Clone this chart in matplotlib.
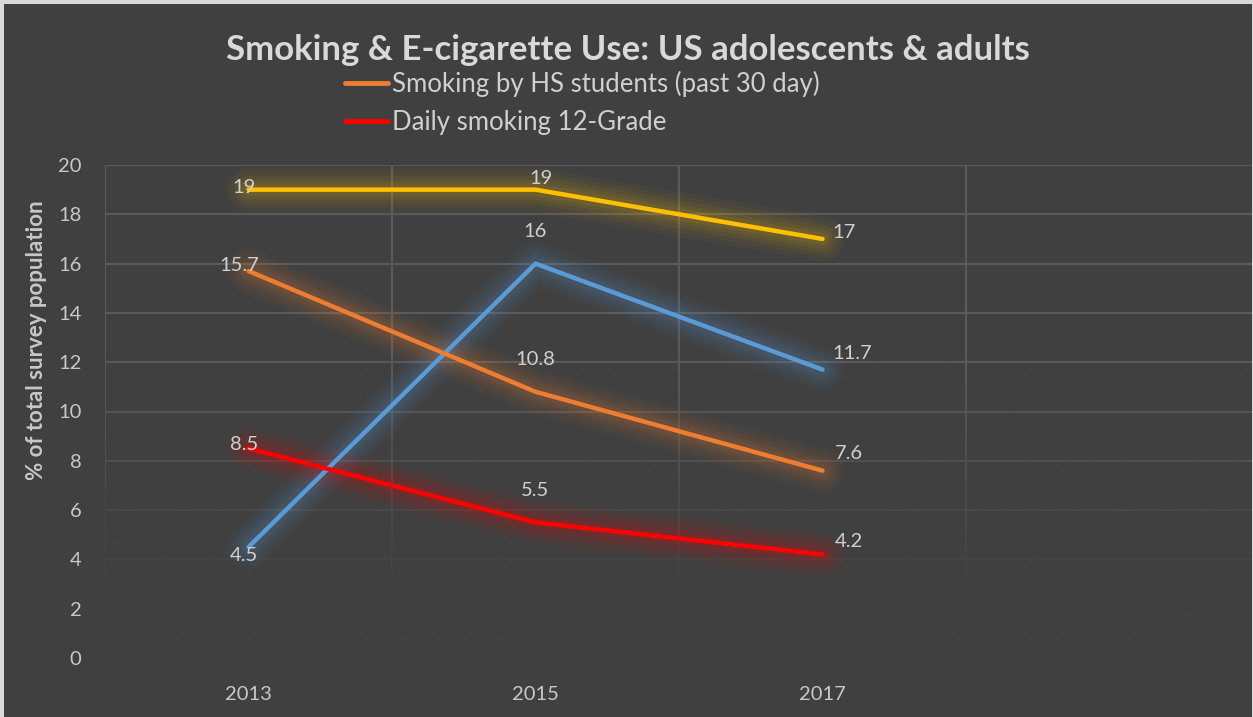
import matplotlib.pyplot as plt
import numpy as np
from matplotlib.patches import Rectangle
from matplotlib.lines import Line2D

plt.rcParams['font.family'] = ['Lato', 'DejaVu Sans']

years = ['2013', '2015', '2017']
ecig_adults = [19, 19, 17]
ecig_hs = [4.5, 16, 11.7]
smoking_hs = [15.7, 10.8, 7.6]
daily_12grade = [8.5, 5.5, 4.2]

series = [
    # values, colour, legend label, label offsets (px) for each year
    (ecig_adults, '#ffc000', None, [(-5, 2), (5, 11), (21, 6)]),
    (ecig_hs, '#5b9bd5', None, [(-5, -8), (0, 32), (30, 16)]),
    (smoking_hs, '#ed7d31', 'Smoking by HS students (past 30 day)', [(-9, 5), (0, 32), (26, 17)]),
    (daily_12grade, '#ff0000', 'Daily smoking 12-Grade', [(-4, 4), (0, 32), (26, 13)]),
]

bg = '#404040'
grid_col = '#5a5a5a'
text_col = '#d0d0d0'

fig = plt.figure(figsize=(12.53, 7.17), dpi=100, facecolor=bg)
W, H = 1253, 717

# light frame around the chart
for x0, y0, w, h in [(0, 0, 4, H), (0, H - 4, W, 4), (W - 1.5, 0, 1.5, H)]:
    fig.patches.append(Rectangle((x0 / W, y0 / H), w / W, h / H, transform=fig.transFigure,
                                 facecolor='#d9d9d9', edgecolor='none', zorder=10))

ax = fig.add_axes([105 / W, (H - 658) / H, (W - 105) / W, (658 - 165) / H])
ax.set_facecolor(bg)
ax.set_xlim(-0.5, 3.5)
ax.set_ylim(0, 20)
for s in ax.spines.values():
    s.set_visible(False)

# gridlines
ax.hlines(np.arange(2, 21, 2), -0.5, 3.5, color=grid_col, lw=1.5, zorder=0.5)
ax.vlines(np.arange(-0.5, 3.6, 1), 0, 20, color=grid_col, lw=1.5, zorder=0.5)

# fade the grid towards the bottom
yy = np.linspace(0, 20, 400)
alpha = np.clip((12.5 - yy) / 10.0, 0, 1) ** 1.1
fade = np.zeros((400, 1, 4))
fade[..., 0:3] = np.array([0x40, 0x40, 0x40]) / 255
fade[:, 0, 3] = alpha
ax.imshow(fade, extent=(-0.5, 3.5, 0, 20), origin='lower', aspect='auto', zorder=0.8,
          interpolation='bilinear')

x = np.arange(len(years))
for vals, col, lab, offs in series:
    # soft glow under each line
    for lw, a in [(32, 0.035), (26, 0.045), (20, 0.06), (14, 0.07), (9, 0.08)]:
        ax.plot(x, vals, color=col, lw=lw, alpha=a, solid_capstyle='round',
                solid_joinstyle='round', zorder=2)
    ax.plot(x, vals, color=col, lw=3.2, solid_capstyle='round', solid_joinstyle='round', zorder=3)
    for xi, v, (dx, dy) in zip(x, vals, offs):
        ax.annotate(f'{v:g}', (xi, v), xytext=(dx, dy), textcoords='offset pixels',
                    ha='center', va='center', fontsize=14.5, color=text_col, zorder=4)

ax.set_xticks(x)
ax.set_xticklabels(years)
ax.set_yticks(np.arange(0, 21, 2))
ax.tick_params(axis='both', length=0, labelsize=14.5, labelcolor='#c8c8c8')
ax.tick_params(axis='x', pad=20)
ax.tick_params(axis='y', pad=17)
ax.set_ylabel('% of total survey population', fontsize=16, fontweight='bold',
              color='#c8c8c8', va='center')
# axis title sits a little above the middle of the plot area
ax.yaxis.set_label_coords((37 - 105) / (W - 105), (658 - 340) / (658 - 165))

fig.text(628 / W, 1 - 50 / H, 'Smoking & E-cigarette Use: US adolescents & adults',
         ha='center', va='center', fontsize=25, fontweight='bold', color='#d9d9d9')

handles = [Line2D([], [], color=c, lw=3.5, solid_capstyle='round') for _, c, l, _ in series if l]
labels = [l for _, _, l, _ in series if l]
fig.legend(handles, labels, loc='upper left', bbox_to_anchor=(345 / W, 1 - 71 / H),
           frameon=False, fontsize=18.5, labelcolor='#d0d0d0', handlelength=1.68,
           handletextpad=0.15, labelspacing=0.5, borderpad=0, borderaxespad=0)

fig.savefig('out.png', dpi=100, facecolor=bg)
